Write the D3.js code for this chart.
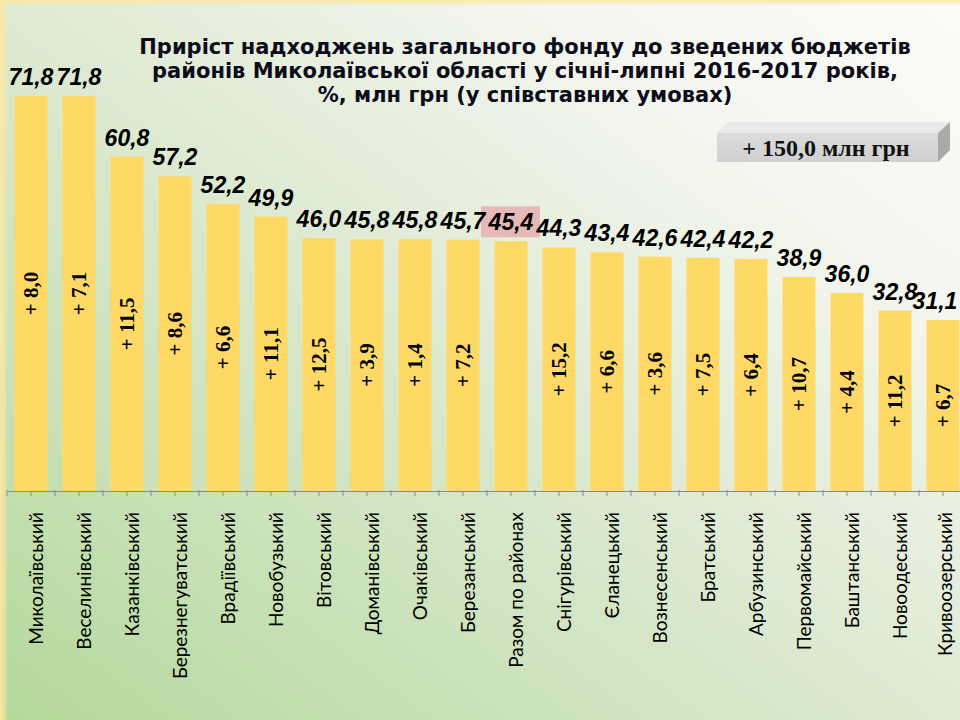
<!DOCTYPE html>
<html><head><meta charset="utf-8">
<script src="https://cdn.jsdelivr.net/npm/d3@7"></script>
<style>body{margin:0;background:#fff;} svg{display:block;}</style>
</head><body>
<svg id="chart" width="960" height="720"></svg>
<script>
const titleLines = [
  "Приріст надходжень загального фонду до зведених бюджетів",
  "районів Миколаївської області у січні-липні 2016-2017 років,",
  "%, млн грн (у співставних умовах)"
];
const categories = ["Миколаївський","Веселинівський","Казанківський","Березнегуватський","Врадіївський","Новобузький","Вітовський","Доманівський","Очаківський","Березанський","Разом по районах","Снігурівський","Єланецький","Вознесенський","Братський","Арбузинський","Первомайський","Баштанський","Новоодеський","Кривоозерський"];
const growthPct = [71.8,71.8,60.8,57.2,52.2,49.9,46.0,45.8,45.8,45.7,45.4,44.3,43.4,42.6,42.4,42.2,38.9,36.0,32.8,31.1];
const growthMln = [8.0,7.1,11.5,8.6,6.6,11.1,12.5,3.9,1.4,7.2,null,15.2,6.6,3.6,7.5,6.4,10.7,4.4,11.2,6.7];
const highlightCategory = "Разом по районах";
const totalMln = 150.0;
const totalUnit = "млн грн";

const svg = d3.select("#chart");
const W = 960, H = 720;
const fmt = v => d3.format(".1f")(v).replace(".", ",");

// background
const defs = svg.append("defs");
const bg = defs.append("linearGradient").attr("id","bg").attr("x1",0).attr("y1",1).attr("x2",1).attr("y2",0);
[[0,"#b4d89b"],[0.3,"#cde3bd"],[0.55,"#e2ecd8"],[0.78,"#f4f6ef"],[1,"#fbfbf8"]].forEach(s=>bg.append("stop").attr("offset",s[0]).attr("stop-color",s[1]));
svg.append("rect").attr("width",W).attr("height",H).attr("fill","url(#bg)");
const ly = defs.append("linearGradient").attr("id","ly").attr("x1",0).attr("y1",0).attr("x2",1).attr("y2",0);
ly.append("stop").attr("offset",0).attr("stop-color","#fde7a2");
ly.append("stop").attr("offset",1).attr("stop-color","#fde7a2").attr("stop-opacity",0.3);
svg.append("rect").attr("x",0).attr("y",0).attr("width",7).attr("height",H).attr("fill","url(#ly)");
const ty = defs.append("linearGradient").attr("id","ty").attr("x1",0).attr("y1",0).attr("x2",0).attr("y2",1);
ty.append("stop").attr("offset",0).attr("stop-color","#fde7a2");
ty.append("stop").attr("offset",1).attr("stop-color","#fde7a2").attr("stop-opacity",0);
svg.append("rect").attr("x",0).attr("y",0).attr("width",W).attr("height",6).attr("fill","url(#ty)");

// scales
const x = d3.scaleBand().domain(categories).range([7, 967]).paddingInner(0.3125).paddingOuter(0.15625);
const y = d3.scaleLinear().domain([0, 80]).range([491, 51]);

// bars
svg.append("g").selectAll("rect").data(categories).join("rect")
  .attr("x", c => x(c)).attr("width", x.bandwidth())
  .attr("y", (c,i) => y(growthPct[i])).attr("height", (c,i) => y(0) - y(growthPct[i]))
  .attr("fill", "#ffd966");

// axis
const axis = svg.append("g").attr("transform", `translate(0,${y(0)})`)
  .call(d3.axisBottom(x).tickSize(5).tickSizeOuter(0).tickFormat(""));
axis.select(".domain").attr("stroke","#8a8a8a");
axis.selectAll(".tick line").attr("stroke","#8a8a8a");
const bounds = categories.map(c => x(c) + x.bandwidth()/2 - x.step()/2);
bounds.push(bounds[bounds.length-1] + x.step());
svg.append("g").selectAll("line").data(bounds).join("line")
  .attr("x1", d=>d).attr("x2", d=>d).attr("y1", y(0)-1).attr("y2", y(0)+5)
  .attr("stroke","#8a8a8a");

// category labels
svg.append("g").selectAll("text").data(categories).join("text")
  .attr("transform", c => `translate(${Math.min(x(c) + x.bandwidth()/2 + 12, 952)},512) rotate(-90)`)
  .attr("text-anchor","end")
  .attr("font-family","Lato, 'Open Sans', sans-serif")
  .attr("font-size",19)
  .attr("fill","#000")
  .text(c => c);

// highlight box behind total label
const hi = categories.indexOf(highlightCategory);
svg.append("rect")
  .attr("x", x(highlightCategory) + x.bandwidth()/2 - 30)
  .attr("y", y(growthPct[hi]) - 35)
  .attr("width", 59).attr("height", 31)
  .attr("fill", "#e6b8b7");

// value labels
svg.append("g").selectAll("text").data(categories).join("text")
  .attr("x", c => Math.min(x(c) + x.bandwidth()/2, 935))
  .attr("y", (c,i) => y(growthPct[i]) - 11)
  .attr("text-anchor","middle")
  .attr("font-family","'Liberation Sans', Arial, sans-serif")
  .attr("font-weight","bold").attr("font-style","italic")
  .attr("font-size",23).attr("fill","#000")
  .text((c,i) => fmt(growthPct[i]));

// inner labels (млн грн)
svg.append("g").selectAll("text").data(categories.filter((c,i)=>growthMln[i]!==null)).join("text")
  .attr("transform", c => { const i = categories.indexOf(c); return `translate(${x(c)+x.bandwidth()/2 + 7},${(y(growthPct[i]) + y(0))/2}) rotate(-90)`; })
  .attr("text-anchor","middle")
  .attr("font-family","'Liberation Serif', 'Times New Roman', serif")
  .attr("font-weight","bold")
  .attr("font-size",21).attr("fill","#000")
  .text(c => "+ " + fmt(growthMln[categories.indexOf(c)]));

// title
svg.append("g").selectAll("text").data(titleLines).join("text")
  .attr("x", 525).attr("y", (d,i) => 54 + i*24)
  .attr("text-anchor","middle")
  .attr("font-family","'DejaVu Sans', Verdana, sans-serif")
  .attr("font-weight","bold").attr("font-size",21)
  .attr("fill","#0d0d1a")
  .text(d => d);

// 3D total box
const bx = 717, by = 133, bw = 221, bh = 29, dep = 12;
const box = svg.append("g");
box.append("polygon").attr("points", `${bx},${by} ${bx+dep},${by-dep+1} ${bx+bw+dep},${by-dep+1} ${bx+bw},${by}`).attr("fill","#e9e9e9");
box.append("polygon").attr("points", `${bx+bw},${by} ${bx+bw+dep},${by-dep+1} ${bx+bw+dep},${by+bh-dep} ${bx+bw},${by+bh}`).attr("fill","#a9a9a9");
const fg = defs.append("linearGradient").attr("id","fg").attr("x1",0).attr("y1",0).attr("x2",0).attr("y2",1);
fg.append("stop").attr("offset",0).attr("stop-color","#dcdcdc");
fg.append("stop").attr("offset",1).attr("stop-color","#d0d0d0");
box.append("rect").attr("x",bx).attr("y",by).attr("width",bw).attr("height",bh).attr("fill","url(#fg)");
box.append("text").attr("x", 826).attr("y", by + 23)
  .attr("text-anchor","middle")
  .attr("font-family","'Liberation Serif', 'Times New Roman', serif")
  .attr("font-weight","bold").attr("font-size",24).attr("fill","#111")
  .text("+ " + fmt(totalMln) + " " + totalUnit);
</script>
</body></html>
